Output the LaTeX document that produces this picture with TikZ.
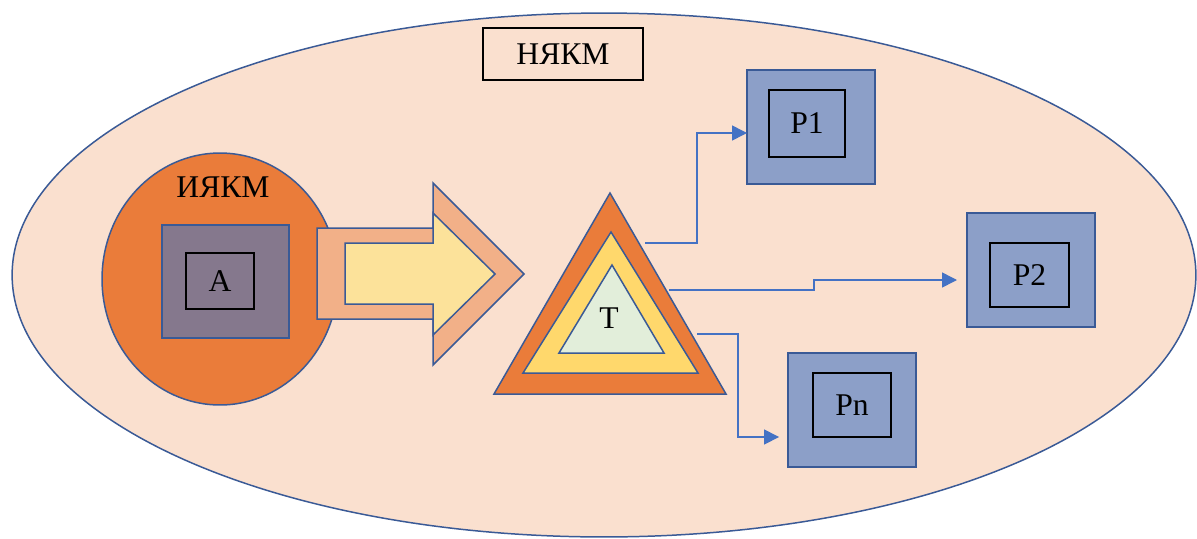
\documentclass[tikz,border=0pt]{standalone}
\usepackage{fontspec}
\setmainfont{Liberation Serif}
\usetikzlibrary{arrows.meta,shapes.geometric}
\definecolor{edgeblue}{HTML}{3A5A96}
\definecolor{peach}{HTML}{FAE0CF}
\definecolor{orangeA}{HTML}{EA7C3A}
\definecolor{purpleA}{HTML}{85788D}
\definecolor{arrowout}{HTML}{F2B088}
\definecolor{arrowin}{HTML}{FCE29A}
\definecolor{triyellow}{HTML}{FFD86C}
\definecolor{trigreen}{HTML}{E2EEDA}
\definecolor{pblue}{HTML}{8C9FC8}
\definecolor{lineblue}{HTML}{4472C4}
\begin{document}
\begin{tikzpicture}[x=0.02cm,y=-0.02cm,
  every node/.style={font=\fontsize{18}{21.6}\selectfont},
  shapeline/.style={draw=edgeblue, line width=0.85pt},
  blackbox/.style={draw=black, line width=0.9pt, rectangle, inner sep=0pt, outer sep=0pt},
  outerbox/.style={shapeline, rectangle, fill=pblue, minimum width=2.56cm, minimum height=2.28cm, inner sep=0pt, outer sep=0pt},
  conn/.style={draw=lineblue, line width=0.85pt, -{Triangle[length=8.5pt,width=8.5pt]}}
]
\useasboundingbox (0,0) rectangle (1197,538);

% big ellipse
\node[ellipse, shapeline, fill=peach, minimum width=23.68cm, minimum height=10.48cm, inner sep=0pt] (world) at (604,275) {};
\node[blackbox, minimum width=3.2cm, minimum height=1.04cm] (nyakm) at (563,54) {НЯКМ};

% left circle
\node[ellipse, shapeline, fill=orangeA, minimum width=4.72cm, minimum height=5.04cm, inner sep=0pt] (circ) at (220,279) {};
\node (iyakm) at (223,187) {ИЯКМ};
\node[shapeline, rectangle, fill=purpleA, minimum width=2.54cm, minimum height=2.26cm, inner sep=0pt] (sqA) at (225.5,281.5) {};
\node[blackbox, minimum width=1.36cm, minimum height=1.12cm] (A) at (220,281) {A};

% block arrow
\path[shapeline, fill=arrowout] (317,228) -- (433,228) -- (433,183) -- (524,274) -- (433,365) -- (433,319) -- (317,319) -- cycle;
\path[shapeline, fill=arrowin] (345,243) -- (433,243) -- (433,213) -- (495,274) -- (433,335) -- (433,304) -- (345,304) -- cycle;

% triangles
\path[shapeline, fill=orangeA] (610,193) -- (726,394) -- (494,394) -- cycle;
\path[shapeline, fill=triyellow] (611,232) -- (698,373) -- (523,373) -- cycle;
\path[shapeline, fill=trigreen] (612,265) -- (664,353) -- (559,353) -- cycle;
\node (T) at (609,318) {T};

% P boxes
\node[outerbox] (P1o) at (811,127) {};
\node[blackbox, minimum width=1.52cm, minimum height=1.34cm] (P1) at (807,123.5) {P1};
\node[outerbox] (P2o) at (1031,270) {};
\node[blackbox, minimum width=1.58cm, minimum height=1.28cm] (P2) at (1029.5,275) {P2};
\node[outerbox] (Pno) at (852,410) {};
\node[blackbox, minimum width=1.56cm, minimum height=1.28cm] (Pn) at (852,405) {Pn};

% connectors
\coordinate (s1) at (645,243);
\coordinate (k1) at (697,133);
\coordinate (s2) at (669,290);
\coordinate (k2) at (814,280);
\coordinate (s3) at (697,334);
\coordinate (k3) at (738,437);
\draw[conn] (s1) -| (k1) -- (P1o.west |- k1);
\draw[conn, shorten >=5.7pt] (s2) -| (k2) -- (P2o.west |- k2);
\draw[conn, shorten >=5.1pt] (s3) -| (k3) -- (Pno.west |- k3);
\end{tikzpicture}
\end{document}
